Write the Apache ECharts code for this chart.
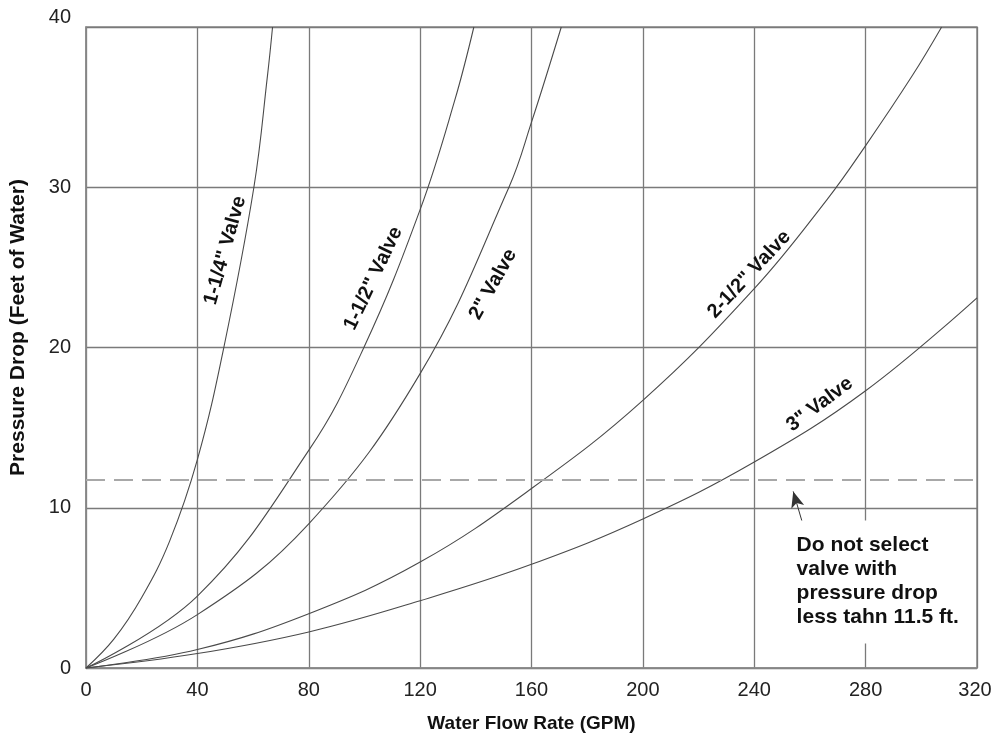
<!DOCTYPE html>
<html><head><meta charset="utf-8">
<script src="https://cdn.jsdelivr.net/npm/echarts@6/dist/echarts.min.js"></script>
<style>html,body{margin:0;padding:0;background:#fff}#c{width:992px;height:743px}</style>
</head><body><div id="c"></div>
<script>
// Data: [GPM, feet of water]
const valve114 = [[0,0],[10,1.8],[20,4.4],[30,7.9],[40,13.0],[49.5,20],[60.3,30],[65.2,37],[67,40]];
const valve112 = [[0,0],[40,4.49],[80,13.58],[99.8,20],[120,28.6],[132.4,35.4],[139.3,40]];
const valve2   = [[0,0],[40,3.33],[80,9.0],[120,18.37],[151.9,30],[160,34.06],[170.7,40]];
const valve212 = [[0,0],[40,1.15],[80,3.39],[120,6.61],[160,11.2],[200,16.7],[240,23.67],[266,29.2],[280,32.6],[296.9,37],[307.3,40]];
const valve3   = [[0,0],[40,0.9],[80,2.25],[120,4.2],[160,6.47],[200,9.3],[240,12.85],[280,17.3],[320,23.1]];

const seriesNames = ['1-1/4" Valve','1-1/2" Valve','2" Valve','2-1/2" Valve','3" Valve'];
const seriesData = [valve114, valve112, valve2, valve212, valve3];
// label anchors [GPM, feet] and rotation (degrees)
const labelAnchors = [[50.0,26.06],[103.2,24.31],[146.2,23.94],[238.2,24.56],[263.5,16.45]];
const labelAngles = [74.5, 64.5, 60.8, 47, 37];

const minDrop = 11.75;
const arrowFrom = [257.9, 8.71];
const arrowTo = [254, 11.02];
const noteAnchor = [254.5, 9.2];
const noteText = 'Do not select\nvalve with\npressure drop\nless tahn 11.5 ft.';
const xTitle = 'Water Flow Rate (GPM)';
const yTitle = 'Pressure Drop (Feet of Water)';

const xMin = 0, xMax = 320, xInterval = 40;
const yMin = 0, yMax = 40, yInterval = 10;

const FONT = '"Liberation Sans", Arial, Helvetica, sans-serif';
const chart = echarts.init(document.getElementById('c'), null, {renderer:'canvas'});

const series = seriesData.map((d, i) => ({
  name: seriesNames[i],
  type: 'line',
  data: d,
  smooth: 0.4,
  showSymbol: false,
  symbol: 'none',
  lineStyle: {color: '#4a4a4a', width: 1.1},
  silent: true,
  z: 3
}));
series.push({
  type: 'line', data: [], silent: true, z: 2,
  markLine: {
    silent: true,
    symbol: ['none','none'],
    label: {show: false},
    animation: false,
    data: [
      {yAxis: minDrop, lineStyle: {type: [19, 9], color: '#a8a8a8', width: 2}},
      [{coord: arrowFrom, symbol: 'none', lineStyle: {type: 'solid', color: '#333', width: 1}},
       {coord: arrowTo, symbol: 'arrow', symbolSize: [10, 16]}]
    ]
  }
});

chart.setOption({
  animation: false,
  backgroundColor: '#fff',
  grid: {left: 86, right: 15, top: 27, bottom: 75, outerBoundsMode: 'none', containLabel: false,
    show: true, borderColor: '#8a8a8a', borderWidth: 1.5},
  xAxis: {
    type: 'value', min: xMin, max: xMax, interval: xInterval,
    name: xTitle, nameLocation: 'middle', nameGap: 46,
    nameTextStyle: {fontFamily: FONT, fontWeight: 'bold', fontSize: 19, color: '#111'},
    axisLine: {show: true, lineStyle: {color: '#8a8a8a', width: 1.5}},
    axisTick: {show: false},
    axisLabel: {fontFamily: FONT, fontSize: 20, color: '#222', margin: 12,
      formatter: v => v === xMax ? '{r|' + v + '}' : String(v),
      rich: {r: {fontFamily: FONT, fontSize: 20, color: '#222', padding: [0, 4, 0, 0]}}},
    splitLine: {show: true, lineStyle: {color: '#7a7a7a', width: 1.3}}
  },
  yAxis: {
    type: 'value', min: yMin, max: yMax, interval: yInterval,
    axisLine: {show: true, lineStyle: {color: '#8a8a8a', width: 1.5}},
    axisTick: {show: false},
    axisLabel: {fontFamily: FONT, fontSize: 20, color: '#222', margin: 15,
      formatter: v => v === yMax ? '{t|' + v + '}' : String(v),
      rich: {t: {fontFamily: FONT, fontSize: 20, color: '#222', padding: [0, 0, 20, 0]}}},
    splitLine: {show: true, lineStyle: {color: '#7a7a7a', width: 1.3}}
  },
  series: series
});

function placeGraphics() {
  const g = [];
  labelAnchors.forEach((a, i) => {
    const p = chart.convertToPixel({gridIndex: 0}, a);
    g.push({
      type: 'text', x: p[0], y: p[1], rotation: labelAngles[i] * Math.PI / 180, z: 10,
      style: {text: seriesNames[i], fontFamily: FONT, fontWeight: 'bold', fontSize: 20,
        fill: '#111', align: 'center', verticalAlign: 'middle'}
    });
  });
  const n = chart.convertToPixel({gridIndex: 0}, noteAnchor);
  g.push({
    type: 'text', x: n[0], y: n[1], z: 10,
    style: {text: noteText, fontFamily: FONT, fontWeight: 'bold', fontSize: 21, lineHeight: 24,
      fill: '#111', align: 'left', verticalAlign: 'top', backgroundColor: '#fff', padding: [13, 4, 14, 2]}
  });
  const top = chart.convertToPixel({gridIndex: 0}, [0, yMax]);
  const bot = chart.convertToPixel({gridIndex: 0}, [0, yMin]);
  g.push({
    type: 'text', x: 18, y: (top[1] + bot[1]) / 2 - 20, rotation: Math.PI / 2, z: 10,
    style: {text: yTitle, fontFamily: FONT, fontWeight: 'bold', fontSize: 21,
      fill: '#111', align: 'center', verticalAlign: 'middle'}
  });
  chart.setOption({graphic: g});
}
placeGraphics();
</script>
</body></html>
